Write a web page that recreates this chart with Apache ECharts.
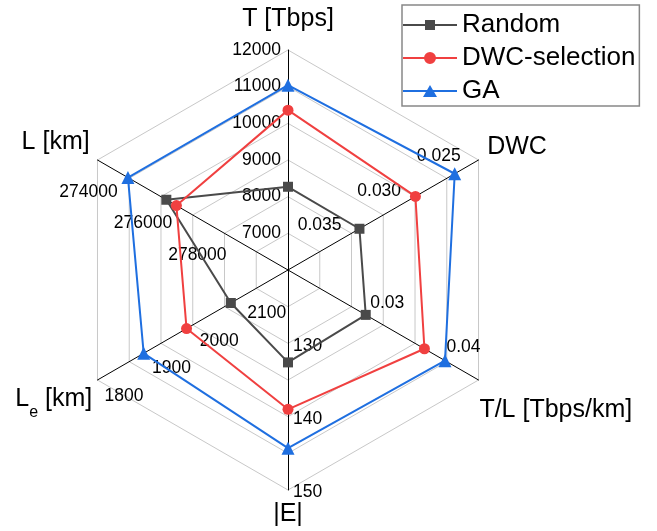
<!DOCTYPE html>
<html>
<head>
<meta charset="utf-8">
<script src="https://cdn.jsdelivr.net/npm/echarts@6/dist/echarts.min.js"></script>
<style>
html, body { margin: 0; padding: 0; background: #fff; }
#radarContainer { width: 657px; height: 531px; }
</style>
</head>
<body>
<div id="radarContainer"></div>
<script>
// axes, counterclockwise from the top
var axisNames = ["T [Tbps]", "L [km]", "{n|L}{sub|e}{n| [km]}", "|E|", "T/L [Tbps/km]", "DWC"];
var axisCenter = [6000, 280000, 2200, 120, 0.02, 0.040];
var axisOuter = [12000, 273000, 1800, 150, 0.045, 0.024];

// tick labels written along each axis
var tLabels = [7000, 8000, 9000, 10000, 11000, 12000];
var lLabels = [274000, 276000, 278000];
var leLabels = [1800, 1900, 2000, 2100];
var eLabels = [130, 140, 150];
var tlLabels = [0.03, 0.04];
var dwcLabels = [0.025, 0.030, 0.035];

var seriesNames = ["Random", "DWC-selection", "GA"];
var randomValues = [8270, 275530, 2080, 132.6, 0.0302, 0.0340];
var dwcSelValues = [10360, 275900, 1987, 139.0, 0.0379, 0.0293];
var gaValues = [11040, 274120, 1897, 144.3, 0.0406, 0.0260];

var FONT = "Liberation Sans, Arial, sans-serif";
var colors = ["#4a4a4a", "#f04040", "#1f6fe0"];

// which radar component carries the labels of each axis, and its decimals
var labelLists = [tLabels, lLabels, leLabels, eLabels, tlLabels, dwcLabels];
var labelDecimals = [0, 0, 0, 0, 2, 3];
var labelRadar = [0, 2, 1, 0, 1, 1];
var splitNumbers = [6, 80, 7];

var axisLook = [
  { margin: 7, lpad: [0, 0, 0, 0], gap: 18, pad: [0, 0, 0, 0] },
  { margin: 14, lpad: [8, 0, 0, 0], gap: 9, pad: [0, 0, 26, 0] },
  { margin: 14, lpad: [8, 0, 0, 0], gap: 6, pad: [32, 0, 0, 0] },
  { margin: 5, lpad: [5, 0, 0, 0], gap: 12, pad: [0, 0, 0, 0] },
  { margin: 12, lpad: [0, 0, 0, 0], gap: 1, pad: [60, 0, 0, 0] },
  { margin: 12, lpad: [0, 0, 0, 0], gap: 10, pad: [0, 0, 16, 0] },
];

function inverted(i) {
  return axisCenter[i] > axisOuter[i];
}
function toAxis(values) {
  return values.map(function (v, i) {
    return inverted(i) ? -v : v;
  });
}
function pickLabel(i, step) {
  var list = labelLists[i];
  return function (v) {
    var a = Math.abs(v);
    for (var k = 0; k < list.length; k++) {
      if (Math.abs(a - list[k]) < step * 0.45) return "{v|" + list[k].toFixed(labelDecimals[i]) + "}";
    }
    return "";
  };
}

function buildRadar(r) {
  var indicator = axisNames.map(function (name, i) {
    var lo = inverted(i) ? -axisCenter[i] : axisCenter[i];
    var hi = inverted(i) ? -axisOuter[i] : axisOuter[i];
    return {
      name: name,
      min: lo,
      max: hi,
      nameGap: axisLook[i].gap,
      nameTextStyle: { padding: axisLook[i].pad },
      axisLabel: {
        show: labelRadar[i] === r,
        margin: axisLook[i].margin,
        formatter: pickLabel(i, (hi - lo) / splitNumbers[r]),
        rich: {
          v: { padding: axisLook[i].lpad, fontSize: 17.5, fontFamily: FONT, color: "#000" },
        },
      },
    };
  });
  var main = r === 0;
  return {
    center: [288, 270],
    radius: 220,
    startAngle: 90,
    shape: "polygon",
    splitNumber: splitNumbers[r],
    indicator: indicator,
    axisName: {
      show: main,
      color: "#000",
      fontSize: 25,
      fontFamily: FONT,
      rich: {
        n: { fontSize: 25, lineHeight: 25, fontFamily: FONT, color: "#000" },
        sub: { fontSize: 16, lineHeight: 16, padding: [18, 0, 0, 0], verticalAlign: "top", fontFamily: FONT, color: "#000" },
      },
    },
    axisLine: { show: main, lineStyle: { color: "#000", width: 1 } },
    splitLine: { show: main, lineStyle: { color: "#c8c8c8", width: 1 } },
    splitArea: { show: false },
    axisTick: { show: false },
    axisLabel: { show: false, color: "#000", fontSize: 17.5, fontFamily: FONT },
    silent: true,
  };
}

var icons = [
  "path://M0,6H54V8H0Z M22,2H32V12H22Z",
  "path://M0,6H54V8H0Z M21,7A6,6 0 1,1 33,7A6,6 0 1,1 21,7Z",
  "path://M0,6H54V8H0Z M27,1L34,13L20,13Z",
];
var symbols = ["rect", "circle", "triangle"];
var symbolSizes = [10, 11, 13];
var valueSets = [randomValues, dwcSelValues, gaValues];

var chart = echarts.init(document.getElementById("radarContainer"));
chart.setOption({
  backgroundColor: "#fff",
  animation: false,
  legend: {
    orient: "vertical",
    left: 402,
    top: 5,
    padding: [7, 4, 2, 1],
    itemWidth: 54,
    itemHeight: 14,
    itemGap: 7,
    borderColor: "#888",
    borderWidth: 1.5,
    textStyle: { fontSize: 26, color: "#000", fontFamily: FONT, lineHeight: 26 },
    data: seriesNames.map(function (n, k) {
      return { name: n, icon: icons[k] };
    }),
  },
  radar: [buildRadar(0), buildRadar(1), buildRadar(2)],
  series: seriesNames.map(function (n, k) {
    return {
      type: "radar",
      radarIndex: 0,
      name: n,
      symbol: symbols[k],
      symbolSize: symbolSizes[k],
      lineStyle: { width: 2, color: colors[k] },
      itemStyle: { color: colors[k] },
      emphasis: { disabled: true },
      data: [{ name: n, value: toAxis(valueSets[k]) }],
    };
  }),
});
</script>
</body>
</html>
